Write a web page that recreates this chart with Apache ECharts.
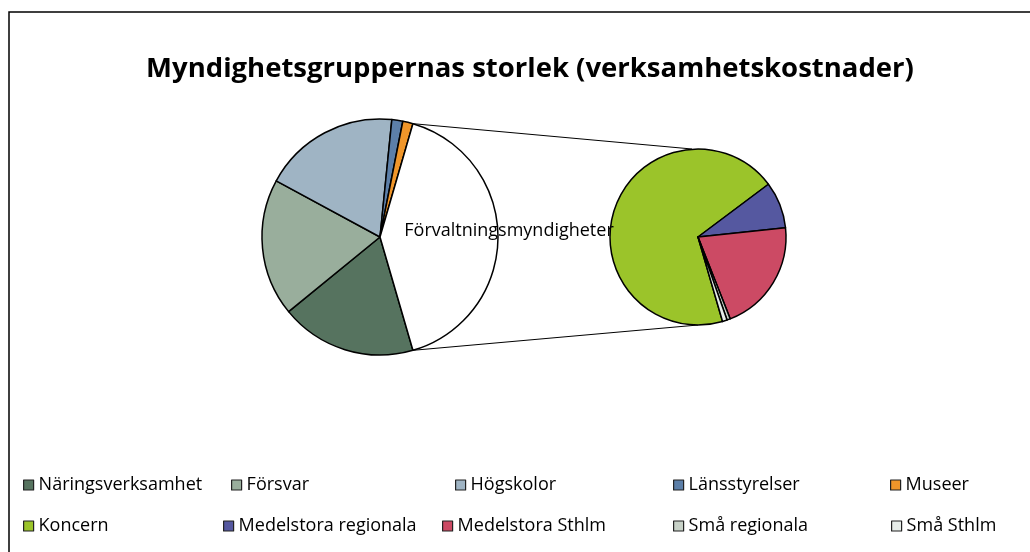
<!DOCTYPE html>
<html>
<head>
<meta charset="utf-8">
<script src="https://cdn.jsdelivr.net/npm/echarts@6/dist/echarts.min.js"></script>
<style>
  html, body { margin: 0; padding: 0; background: #fff; }
  #chart { width: 1030px; height: 552px; }
</style>
</head>
<body>
<div id="chart"></div>
<script>
const elChart = document.getElementById('chart');

// Data
const mainNames = ['Näringsverksamhet', 'Försvar', 'Högskolor', 'Länsstyrelser', 'Museer'];
const mainValues = [18.6, 18.8, 18.7, 1.5, 1.4];
const mainColors = ['#56735f', '#99ae9c', '#9fb4c4', '#5c7fa8', '#f0962a'];

const otherName = 'Förvaltningsmyndigheter';

const subNames = ['Koncern', 'Medelstora regionala', 'Medelstora Sthlm', 'Små regionala', 'Små Sthlm'];
const subValues = [28.4, 3.5, 8.5, 0.25, 0.35];
const subColors = ['#9bc42a', '#5558a0', '#cc4a64', '#c8d2c8', '#e6ece8'];

// Layout
const FONT = '"Open Sans", sans-serif';
const mainCenter = [380, 237];
const mainRadius = 118;
const subCenter = [698, 237];
const subRadius = 88;

// legend slots: text start x, row centre y
const legendRows = [486, 527];
const legendTextX = [
    [38, 246, 470, 688, 905],
    [38, 238, 457, 688, 906],
];

const otherValue = subValues.reduce((a, b) => a + b, 0);
const total = mainValues.reduce((a, b) => a + b, 0) + otherValue;
const halfAngle = otherValue / total * 180;   // other slice centred at 3 o'clock
const startAngle = -halfAngle;

const borderStyle = { borderColor: '#000', borderWidth: 1.5 };

const mainData = mainNames.map((name, i) => ({
    name: name,
    value: mainValues[i],
    itemStyle: Object.assign({ color: mainColors[i] }, borderStyle),
}));
mainData.push({
    name: otherName,
    value: otherValue,
    itemStyle: Object.assign({ color: '#ffffff' }, borderStyle),
    label: {
        show: true,
        position: 'inside',
        color: '#000',
        fontFamily: FONT,
        fontSize: 18,
        lineHeight: 12,
        padding: [0, 0, 0, 134],
        // blank second line lifts the label a little, as in the original
        formatter: '{b}\n ',
    },
});

const subData = subNames.map((name, i) => ({
    name: name,
    value: subValues[i],
    itemStyle: Object.assign({ color: subColors[i] }, borderStyle),
}));

// one legend per item, Excel grid
const legends = [];
[mainNames, subNames].forEach((names, row) => {
    names.forEach((name, col) => {
        legends.push({
            data: [name],
            left: legendTextX[row][col] - 15,
            top: legendRows[row] - 10,
            padding: 0,
            icon: 'rect',
            itemWidth: 10,
            itemHeight: 10,
            selectedMode: false,
            itemStyle: { borderColor: '#222', borderWidth: 1.2 },
            textStyle: { fontFamily: FONT, fontSize: 18, color: '#000' },
        });
    });
});

// connector lines from the other slice to the secondary pie
const rad = halfAngle * Math.PI / 180;
const topMain = [mainCenter[0] + mainRadius * Math.cos(rad), mainCenter[1] - mainRadius * Math.sin(rad)];
const botMain = [mainCenter[0] + mainRadius * Math.cos(rad), mainCenter[1] + mainRadius * Math.sin(rad)];
const topSub = [subCenter[0] - 6, subCenter[1] - subRadius];
const botSub = [subCenter[0], subCenter[1] + subRadius];

const chart = echarts.init(elChart, null, { renderer: 'canvas' });

const option = {
    backgroundColor: '#fff',
    animation: false,

    title: {
        text: 'Myndighetsgruppernas storlek (verksamhetskostnader)',
        left: 525,
        top: 50,
        textAlign: 'center',
        textStyle: { fontFamily: FONT, fontSize: 27.5, fontWeight: 'bold', color: '#000' },
    },

    legend: legends,

    graphic: [
        {
            type: 'rect',
            shape: { x: 9, y: 12, width: 1100, height: 700 },
            style: { fill: null, stroke: '#000', lineWidth: 1.5 },
            silent: true,
        },
        {
            type: 'line',
            shape: { x1: topMain[0], y1: topMain[1], x2: topSub[0], y2: topSub[1] },
            style: { stroke: '#000', lineWidth: 1 },
            silent: true,
        },
        {
            type: 'line',
            shape: { x1: botMain[0], y1: botMain[1], x2: botSub[0], y2: botSub[1] },
            style: { stroke: '#000', lineWidth: 1 },
            silent: true,
        },
    ],

    series: [
        {
            name: 'Huvud',
            type: 'pie',
            center: mainCenter,
            radius: mainRadius,
            startAngle: startAngle,
            clockwise: true,
            silent: true,
            label: { show: false },
            labelLine: { show: false },
            data: mainData,
        },
        {
            name: otherName,
            type: 'pie',
            center: subCenter,
            radius: subRadius,
            startAngle: startAngle,
            clockwise: true,
            silent: true,
            label: { show: false },
            labelLine: { show: false },
            data: subData,
        },
    ],
};

chart.setOption(option);
</script>
</body>
</html>
